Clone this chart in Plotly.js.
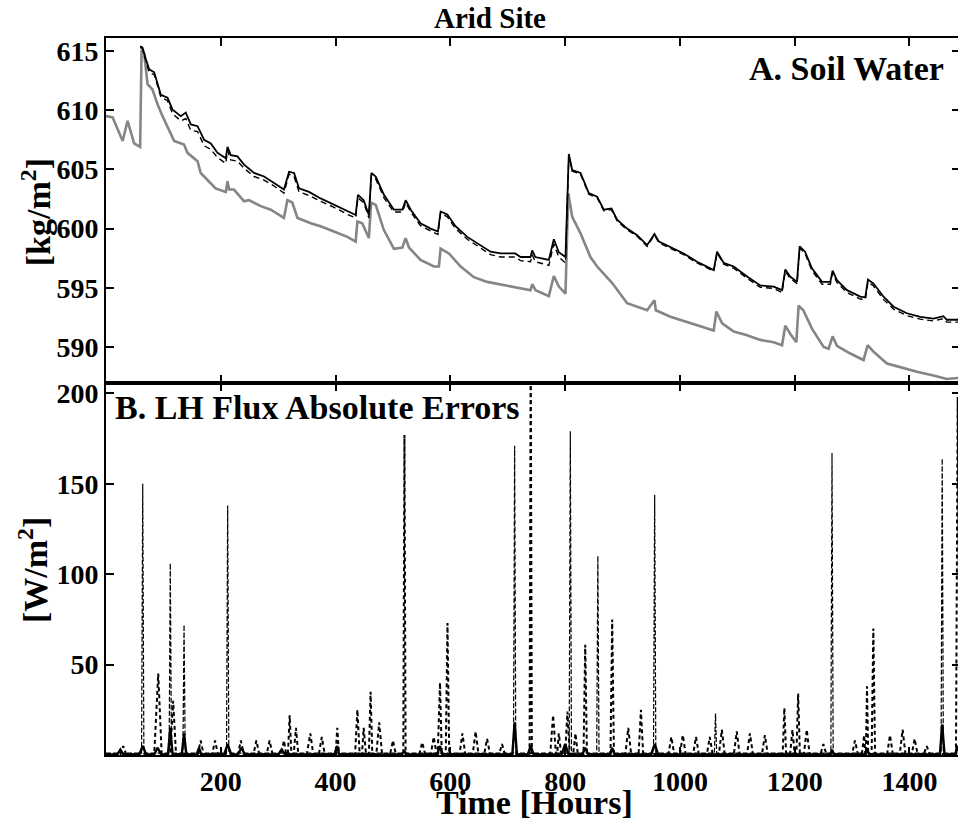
<!DOCTYPE html>
<html>
<head>
<meta charset="utf-8">
<script src="https://cdn.plot.ly/plotly-3.0.1.min.js"></script>
<style>
html,body{margin:0;padding:0;overflow:hidden;background:#fff;}
#chart{width:961px;height:821px;}
</style>
</head>
<body>
<div id="chart"></div>
<script>
// ---- Panel A: Soil Water [kg/m2] ----
const swHoursBlack = [59.5,63.5,69.5,75.2,84,95.6,107.2,116,130.4,139,
147.8,159.5,171,182.6,194.3,208.7,211.7,217.5,229,240.6,
258,275.4,292.8,310,319,327.7,336.3,353.7,374,397.3,
420.6,435,439,449,458,462.4,470,484.3,501.7,516.4,
522.2,531,548,565.6,578.3,583,594.7,609,629.5,646.9,
670,687.5,713,722.3,739.7,742.6,748,771.6,780.3,789,
800.6,806.4,812.3,826.8,841.2,855.8,867.3,880.7,890.6,908,
925.5,942.8,955.6,963.5,983.5,1006.6,1029.9,1058.9,1064.7,1076.3,
1093.7,1117,1140,1163.3,1177.9,1183.6,1192,1204,1208.6,1218,
1230,1247.6,1262,1266,1273.6,1291,1314.2,1323,1327.6,1337.4,
1354.8,1372.2,1395.5,1418.7,1441.8,1459,1465,1488];
const swBlackSolid = [615.4,615.3,614.3,613.45,613.2,611.3,611.05,610.05,609.5,609.8,
608.8,608.65,607.5,607.2,606.4,605.95,606.9,606.2,606.1,605.4,
604.7,604.4,603.85,603.3,604.8,604.7,603.4,603.1,602.55,602.0,
601.45,601.15,602.85,602.4,601.15,604.7,604.4,602.85,601.6,601.6,
602.4,601.6,600.45,600.0,599.75,601.45,601.2,600.2,599.3,598.75,
598.05,597.9,597.9,597.6,597.6,598.15,597.6,597.35,599.1,598.0,
597.6,606.3,604.95,604.7,603.0,602.7,601.6,601.7,600.75,600.0,
599.45,598.6,599.55,598.9,598.45,597.9,597.2,596.5,598.05,597.1,
596.8,595.95,595.2,595.1,594.8,596.55,595.95,595.5,598.5,598.05,
596.65,595.5,595.5,596.45,595.65,594.8,594.25,594.2,595.7,595.35,
594.25,593.4,592.85,592.55,592.4,592.6,592.3,592.3];
const swBlackDashed = [615.3,615.2,614.1,613.2,613.0,611.1,610.8,609.7,609.1,609.3,
608.3,608.2,607.0,606.7,606.0,605.5,606.6,605.8,605.7,605.1,
604.4,604.1,603.6,603.0,604.6,604.4,603.1,602.8,602.3,601.8,
601.2,600.9,602.6,602.2,600.9,604.5,604.2,602.6,601.4,601.4,
602.2,601.4,600.25,599.8,599.5,601.3,601.0,600.0,599.1,598.55,
597.8,597.6,597.6,597.3,597.2,597.8,597.2,596.9,598.7,597.6,
597.1,606.2,604.85,604.6,602.9,602.6,601.5,601.6,600.65,599.9,
599.35,598.5,599.45,598.8,598.35,597.8,597.1,596.4,597.95,597.0,
596.65,595.8,595.05,594.95,594.6,596.4,595.8,595.35,598.35,597.9,
596.45,595.3,595.3,596.25,595.45,594.6,594.05,594.0,595.5,595.15,
594.0,593.2,592.65,592.35,592.2,592.4,592.1,592.1];
const swHoursGray = [0,11.5,29,37.6,49,59.5,62,66.5,72.4,81,
89.8,98.5,118.8,136,142,159.5,165,191,208.7,211.7,
214.6,223,240.6,249,269.7,287,310,316,324.6,333.6,
356.7,374,397,420.6,435,438,446.5,458,462,470,
484,501.7,516.4,522,528,548,571.4,580,583,597.5,
618,641,664,687.5,710.6,739.7,742.6,748.5,771.6,780.3,
789,800.6,805.4,812.3,826.8,844,855.8,882,908,942.8,
955.6,958,983.5,1012.5,1035.7,1058.9,1063.5,1073.5,1093.7,1117,
1140,1163.3,1177.9,1183.6,1192.4,1202.8,1206.8,1215,1230,1250.4,
1259,1266,1273.6,1296.8,1320,1327,1337.4,1360.7,1383.9,1413,
1441.8,1465,1488];
const swGray = [609.5,609.4,607.4,609.1,607.2,606.9,615.1,614.8,612.2,611.75,
610.5,609.5,607.4,607.1,606.4,605.7,604.7,603.4,603.1,604.0,
603.3,603.3,602.3,602.4,601.9,601.6,600.9,602.4,602.2,600.9,
600.45,600.2,599.75,599.3,598.9,600.6,600.45,599.2,602.2,602.0,
599.9,598.3,598.4,599.2,598.4,597.35,596.8,596.8,598.3,597.9,
596.8,595.9,595.5,595.3,595.1,594.8,595.3,594.8,594.3,596.0,
595.1,594.5,603.0,601.0,599.6,597.6,596.8,595.4,593.7,593.1,
593.95,593.1,592.55,592.1,591.7,591.4,593.0,592.0,591.3,591.0,
590.6,590.4,590.15,591.8,591.1,590.4,593.5,593.1,591.55,590.0,
589.85,590.9,590.1,589.45,588.9,590.15,589.6,588.6,588.3,587.9,
587.6,587.3,587.4];

// ---- Panel B: LH Flux Absolute Errors [W/m2] ----
const lhHoursThin = [0,62,64,66,110,112,114,134,136,138,210,212,214,710,712,714,807,809,811,855,857,859,954,956,958,1060,1062,1064,1263,1265,1267,1455,1457,1459,1488];
const lhThin = [1,1,150,1,1,106,1,1,72,1,1,138,1,1,171,1,1,179,1,1,110,1,1,144,1,1,23,1,1,167,1,1,164,1,1];

const lhHoursThick = [0, 25,30,35, 84,91,97, 112,117,122, 160,165,170, 185,190,195, 230,235,240, 257,262,267, 280,285,290, 305,310,314, 317,320,323, 327,331,335, 350,356,361, 371,376,381, 400,403,406, 434,438,442, 446,449,453, 458,461,464, 471,476,481, 495,500,505, 518,520,522, 546,551,556, 566,571,576, 578,582,585, 592,595,598, 616,621,626, 639,644,649, 659,664,669, 685,690,695, 738,740,742, 774,779,784, 786,789,793, 800,804,808, 814,818,822, 832,835,838, 879,882,885, 905,910,915, 928,932,936, 980,985,990, 1000,1005,1010, 1023,1028,1033, 1047,1052,1057, 1068,1073,1078, 1094,1099,1104, 1117,1122,1127, 1143,1148,1153, 1179,1182,1185, 1192,1196,1200, 1203,1206,1209, 1216,1221,1226, 1245,1250,1255, 1300,1305,1310, 1317,1321,1323, 1324,1326,1328, 1334,1337,1340, 1361,1366,1371, 1383,1388,1393, 1404,1409,1414, 1425,1430,1435, 1481,1484,1488];
const lhThick = [0.5, 0.5,5,0.5, 0.5,45,0.5, 0.5,30,0.5, 0.5,8,0.5, 0.5,8,0.5, 0.5,8,0.5, 0.5,8,0.5, 0.5,8,0.5, 0.5,8,0.5, 0.5,22,0.5, 0.5,15,0.5, 0.5,12,0.5, 0.5,10,0.5, 0.5,15,0.5, 0.5,25,0.5, 0.5,15,0.5, 0.5,35,0.5, 0.5,18,0.5, 0.5,8,0.5, 0.5,177,0.5, 0.5,7,0.5, 0.5,10,0.5, 0.5,40,0.5, 0.5,73,0.5, 0.5,12,0.5, 0.5,13,0.5, 0.5,9,0.5, 0.5,6,0.5, 0.5,230,0.5, 0.5,22,0.5, 0.5,12,0.5, 0.5,24,0.5, 0.5,12,0.5, 0.5,61,0.5, 0.5,75,0.5, 0.5,15,0.5, 0.5,25,0.5, 0.5,10,0.5, 0.5,11,0.5, 0.5,10,0.5, 0.5,10,0.5, 0.5,14,0.5, 0.5,13,0.5, 0.5,12,0.5, 0.5,11,0.5, 0.5,26,0.5, 0.5,14,0.5, 0.5,34,0.5, 0.5,14,0.5, 0.5,6,0.5, 0.5,8,0.5, 0.5,11,0.5, 0.5,38,0.5, 0.5,70,0.5, 0.5,11,0.5, 0.5,14,0.5, 0.5,9,0.5, 0.5,5,0.5, 0.5,198,0.5];

const lhHoursSolid = [0, 20,25,30, 58,64,70, 84,90,96, 108,112,116, 132,136,140, 158,162,166, 206,212,218, 230,236,242, 300,306,312, 398,403,406, 515,520,525, 577,582,586, 708,712,716, 735,740,745, 794,800,806, 830,835,840, 878,882,886, 950,956,962, 1262,1265,1268, 1322,1326,1330, 1453,1457,1461, 1480,1483,1488];
const lhSolid = [0.3, 0.3,3,0.3, 0.3,5,0.3, 0.3,4,0.3, 0.3,15,0.3, 0.3,12,0.3, 0.3,4,0.3, 0.3,6,0.3, 0.3,4,0.3, 0.3,3,0.3, 0.3,5,0.3, 0.3,2,0.3, 0.3,5,0.3, 0.3,18,0.3, 0.3,5,0.3, 0.3,6,0.3, 0.3,4,0.3, 0.3,4,0.3, 0.3,6,0.3, 0.3,3,0.3, 0.3,3,0.3, 0.3,17,0.3, 0.3,5,0.3];

const xTicks = [200,400,600,800,1000,1200,1400];
const swTicks = [590,595,600,605,610,615];
const lhTicks = [50,100,150,200];

const FONT = 'Liberation Serif, "Times New Roman", Times, serif';

const traces = [
  {x: swHoursGray, y: swGray, xaxis:'x2', yaxis:'y2', mode:'lines', line:{color:'#858585', width:2.6}},
  {x: swHoursBlack, y: swBlackDashed, xaxis:'x2', yaxis:'y2', mode:'lines', line:{color:'#000', width:1.4, dash:'6px,4px'}},
  {x: swHoursBlack, y: swBlackSolid, xaxis:'x2', yaxis:'y2', mode:'lines', line:{color:'#000', width:1.8}},
  {x: lhHoursThick, y: lhThick, xaxis:'x', yaxis:'y', mode:'lines', line:{color:'#000', width:2.0, dash:'4px,3px'}},
  {x: lhHoursThin, y: lhThin, xaxis:'x', yaxis:'y', mode:'lines', line:{color:'#000', width:1.2, dash:'5px,2px'}},
  {x: lhHoursSolid, y: lhSolid, xaxis:'x', yaxis:'y', mode:'lines', line:{color:'#000', width:2.4}}
];

const axCommon = {
  showgrid:false, zeroline:false, showline:true, linecolor:'#000', linewidth:2,
  ticks:'inside', ticklen:8, tickwidth:2, tickcolor:'#000', mirror:'ticks',
  tickfont:{family:FONT, size:28, color:'#000', weight:'bold'}
};

const split = 0.5195;
const layout = {
  width:961, height:821,
  margin:{l:106, r:1, t:38, b:66},
  paper_bgcolor:'#fff', plot_bgcolor:'#fff',
  showlegend:false,
  font:{family:FONT, color:'#000'},
  xaxis: Object.assign({}, axCommon, {anchor:'y', domain:[0,1], range:[0,1488], tickmode:'array', tickvals:xTicks}),
  xaxis2: Object.assign({}, axCommon, {anchor:'y2', domain:[0,1], range:[0,1488], tickmode:'array', tickvals:xTicks, showticklabels:false, matches:'x'}),
  yaxis: Object.assign({}, axCommon, {anchor:'x', domain:[0,split], range:[0,206], tickmode:'array', tickvals:lhTicks}),
  yaxis2: Object.assign({}, axCommon, {anchor:'x2', domain:[split,1], range:[587,616.1], tickmode:'array', tickvals:swTicks}),
  annotations:[
    {text:'Arid Site', xref:'paper', yref:'paper', x:0.4497, y:1.028, xanchor:'center', yanchor:'middle', showarrow:false, font:{family:FONT, size:29, weight:'bold', color:'#000'}},
    {text:'A. Soil Water', xref:'paper', yref:'paper', x:0.9836, y:0.958, xanchor:'right', yanchor:'middle', showarrow:false, font:{family:FONT, size:34, weight:'bold', color:'#000'}},
    {text:'B. LH Flux Absolute Errors', xref:'paper', yref:'paper', x:0.0082, y:0.484, xanchor:'left', yanchor:'middle', showarrow:false, font:{family:FONT, size:34, weight:'bold', color:'#000'}},
    {text:'Time [Hours]', xref:'paper', yref:'paper', x:0.5023, y:-0.066, xanchor:'center', yanchor:'middle', showarrow:false, font:{family:FONT, size:34, weight:'bold', color:'#000'}},
    {text:'[kg/m<sup>2</sup>]', xref:'paper', yref:'paper', x:-0.082, y:0.757, xanchor:'center', yanchor:'middle', textangle:-90, showarrow:false, font:{family:FONT, size:34, weight:'bold', color:'#000'}},
    {text:'[W/m<sup>2</sup>]', xref:'paper', yref:'paper', x:-0.0855, y:0.258, xanchor:'center', yanchor:'middle', textangle:-90, showarrow:false, font:{family:FONT, size:34, weight:'bold', color:'#000'}}
  ]
};

Plotly.newPlot('chart', traces, layout, {staticPlot:true, displayModeBar:false});
</script>
</body>
</html>
